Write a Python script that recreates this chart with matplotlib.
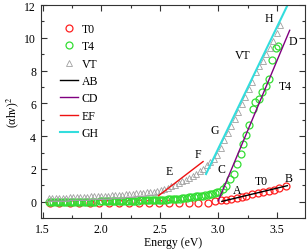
import matplotlib
matplotlib.use('Agg')
import matplotlib.pyplot as plt
from matplotlib.ticker import MultipleLocator

plt.rcParams['font.family'] = ['Liberation Serif', 'DejaVu Serif']
plt.rcParams['mathtext.fontset'] = 'stix'

# T0 (red circles)
e_t0 = [1.56, 1.64, 1.73, 1.81, 1.90, 1.98, 2.07, 2.15, 2.24, 2.32, 2.41, 2.49,
        2.58, 2.66, 2.75, 2.83, 2.91, 2.97, 3.02, 3.07, 3.11, 3.16, 3.20, 3.24,
        3.29, 3.34, 3.38, 3.43, 3.48, 3.52, 3.58]
y_t0 = [-0.1, -0.1, -0.1, -0.1, -0.1, -0.1, -0.1, -0.1, -0.1, -0.1, -0.1, -0.1,
        -0.1, -0.1, -0.1, -0.1, -0.08, 0.04, 0.1, 0.12, 0.17, 0.23, 0.29, 0.37,
        0.47, 0.53, 0.61, 0.67, 0.73, 0.84, 0.94]

# T4 (green circles)
e_t4 = [1.55, 1.57, 1.59, 1.61, 1.63, 1.65, 1.67, 1.69, 1.71, 1.73, 1.75, 1.77,
        1.79, 1.81, 1.83, 1.85, 1.87, 1.89, 1.91, 1.93, 1.95, 1.99, 2.01, 2.03,
        2.05, 2.07, 2.09, 2.11, 2.13, 2.15, 2.17, 2.19, 2.21, 2.23, 2.25, 2.27,
        2.29, 2.31, 2.33, 2.35, 2.37, 2.39, 2.41, 2.43, 2.45, 2.47, 2.49, 2.51,
        2.53, 2.55, 2.57, 2.59, 2.61, 2.63, 2.65, 2.67, 2.69, 2.71, 2.73, 2.75,
        2.77, 2.79, 2.81, 2.83, 2.85, 2.87, 2.89, 2.91, 2.93, 2.95, 2.97, 2.99,
        3.01, 3.04, 3.07, 3.10, 3.13, 3.16, 3.19, 3.21, 3.24, 3.265, 3.30, 3.31,
        3.35, 3.37, 3.41, 3.43, 3.46, 3.49, 3.51]
y_t4 = [0.0, 0.0, 0.0, 0.0, 0.0, 0.0, 0.0, 0.0, 0.0, 0.0, 0.0, 0.0,
        0.0, 0.0, 0.0, 0.0, 0.0, 0.0, 0.0, 0.0, 0.0, 0.02, 0.03, 0.03,
        0.04, 0.04, 0.04, 0.05, 0.05, 0.05, 0.05, 0.06, 0.06, 0.06, 0.06, 0.07,
        0.07, 0.07, 0.08, 0.08, 0.08, 0.09, 0.09, 0.1, 0.1, 0.1, 0.11, 0.12,
        0.12, 0.13, 0.14, 0.15, 0.16, 0.17, 0.18, 0.19, 0.2, 0.22, 0.24, 0.26,
        0.28, 0.3, 0.32, 0.34, 0.36, 0.38, 0.41, 0.44, 0.47, 0.5, 0.53, 0.57,
        0.62, 0.8, 0.98, 1.39, 1.69, 2.31, 2.92, 3.53, 4.08, 4.69, 5.67, 6.08,
        6.28, 6.69, 7.09, 7.5, 8.62, 9.38, 9.48]

# VT (gray triangles)
e_vt = [1.55, 1.58, 1.61, 1.64, 1.67, 1.70, 1.73, 1.76, 1.79, 1.82, 1.85, 1.88,
        1.91, 1.94, 1.97, 2.00, 2.03, 2.06, 2.09, 2.12, 2.15, 2.18, 2.21, 2.24,
        2.27, 2.30, 2.33, 2.36, 2.39, 2.42, 2.45, 2.48, 2.51, 2.54, 2.57, 2.60,
        2.63, 2.66, 2.69, 2.72, 2.75, 2.78, 2.81, 2.84, 2.87, 2.90, 2.93,
        2.96, 2.99, 3.02, 3.05, 3.08, 3.11, 3.14, 3.17, 3.20, 3.23, 3.26, 3.29,
        3.32, 3.35, 3.38, 3.41, 3.44, 3.47, 3.50, 3.53]
y_vt = [0.2, 0.21, 0.22, 0.23, 0.24, 0.25, 0.26, 0.27, 0.28, 0.29, 0.3, 0.31,
        0.32, 0.33, 0.34, 0.35, 0.36, 0.38, 0.39, 0.41, 0.42, 0.44, 0.46, 0.47,
        0.49, 0.51, 0.53, 0.55, 0.58, 0.6, 0.62, 0.65, 0.69, 0.76, 0.85, 0.95,
        1.05, 1.15, 1.25, 1.35, 1.45, 1.6, 1.7, 1.85, 2.0, 2.25, 2.45,
        2.6, 2.85, 3.3, 3.75, 4.2, 4.6, 5.05, 5.5, 5.95, 6.4, 6.85, 7.3,
        7.9, 8.3, 8.6, 9.0, 9.4, 9.8, 10.3, 10.8]

# fitted lines: (start, end)
ab_x, ab_y = [3.03, 3.59], [0.02, 0.98]
cd_x, cd_y = [3.0, 3.61], [0.06, 10.46]
ef_x, ef_y = [2.49, 2.87], [0.37, 2.45]
gh_x, gh_y = [2.895, 3.60], [1.69, 12.12]

# point labels
lbl_txt = ['A', 'B', 'T0', 'C', 'D', 'T4', 'E', 'F', 'G', 'H', 'VT']
lbl_x = [3.16, 3.6, 3.37, 3.03, 3.64, 3.57, 2.58, 2.83, 2.97, 3.43, 3.21]
lbl_y = [0.72, 1.43, 1.29, 2.0, 9.8, 7.05, 1.9, 2.92, 4.38, 11.2, 8.95]

fig = plt.figure(figsize=(3.08, 2.51), dpi=100)
ax = fig.add_axes([0.133, 0.127, 0.857, 0.849])

ax.plot(e_t0, y_t0, 'o', ls='none', mfc='none', mec='#ff2020', ms=5, mew=0.9,
        label='T0')
ax.plot(e_t4, y_t4, 'o', ls='none', mfc='none', mec='#33dd33', ms=5, mew=0.9,
        label='T4')
ax.plot(e_vt, y_vt, '^', ls='none', mfc='none', mec='#a0a0a0', ms=4.5, mew=0.6,
        label='VT')
ax.plot(ab_x, ab_y, color='black', lw=1.0, label='AB')
ax.plot(cd_x, cd_y, color='#800080', lw=1.0, label='CD')
ax.plot(ef_x, ef_y, color='#ee1111', lw=1.0, label='EF')
ax.plot(gh_x, gh_y, color='#33dddd', lw=1.5, label='GH')

for t, x, y in zip(lbl_txt, lbl_x, lbl_y):
    ax.text(x, y, t, fontsize=8.5, ha='center', va='center')

ax.set_xlim(1.485, 3.74)
ax.set_ylim(-1, 12)
ax.xaxis.set_major_locator(MultipleLocator(0.5))
ax.xaxis.set_minor_locator(MultipleLocator(0.25))
ax.yaxis.set_major_locator(MultipleLocator(2))
ax.yaxis.set_minor_locator(MultipleLocator(1))
ax.tick_params(which='both', direction='in', top=True, right=True,
               labelsize=8.5, color='#333333')
ax.tick_params(which='major', length=4, width=0.8)
ax.tick_params(which='minor', length=2, width=0.8)
for s in ax.spines.values():
    s.set_color('#333333')
    s.set_linewidth(0.8)

ax.set_xlabel('Energy (eV)', fontsize=8.5, labelpad=1)
ax.set_ylabel('(αhν)$^2$', fontsize=8.5, labelpad=2)

leg = ax.legend(loc='upper left', bbox_to_anchor=(0.03, 0.965), frameon=False,
                fontsize=8.5, handlelength=1.6, handletextpad=0.3,
                labelspacing=0.45)

fig.savefig('out.png', dpi=100)
